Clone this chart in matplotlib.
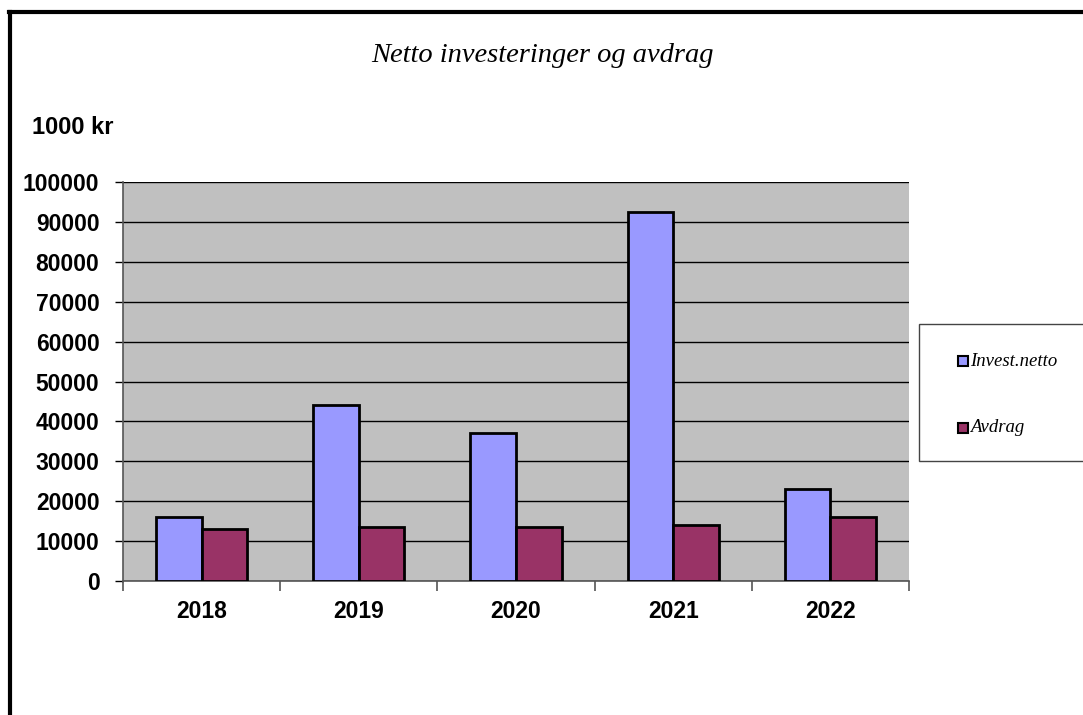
import matplotlib
matplotlib.use("Agg")
import matplotlib.pyplot as plt
import numpy as np
from matplotlib.lines import Line2D
from matplotlib.patches import Rectangle

years = ["2018", "2019", "2020", "2021", "2022"]
invest_netto = [16000, 44000, 37000, 92500, 23000]
avdrag = [13000, 13500, 13600, 14000, 16000]
series_names = ["Invest.netto", "Avdrag"]

W, H = 1083, 715
fig = plt.figure(figsize=(W / 100, H / 100), dpi=100)

# plot area in pixels: x 123..909, y 182..581
ax = fig.add_axes([123 / W, 1 - 581 / H, (909 - 123) / W, (581 - 182) / H])
ax.set_facecolor("#c0c0c0")

x = np.arange(len(years))
bw = 0.29
ax.bar(x - bw / 2, invest_netto, bw, color="#9999ff", edgecolor="black", linewidth=2, zorder=3)
ax.bar(x + bw / 2, avdrag, bw, color="#993366", edgecolor="black", linewidth=2, zorder=3)

ax.set_xlim(-0.5, len(years) - 0.5)
ax.set_ylim(0, 100000)
ax.set_yticks(np.arange(0, 100001, 10000))
ax.yaxis.grid(True, color="black", linewidth=1, zorder=1)
ax.set_axisbelow(True)

ax.set_xticks(np.arange(-0.5, len(years), 1))
ax.set_xticklabels([])
ax.set_xticks(x, minor=True)
ax.set_xticklabels(years, minor=True)
ax.tick_params(axis="x", which="major", length=7, direction="out", color="#555555", width=1.2)
ax.tick_params(axis="x", which="minor", length=0, pad=14)
ax.tick_params(axis="y", length=6, direction="out", width=1, pad=11)
for lab in ax.get_xticklabels(minor=True) + ax.get_yticklabels():
    lab.set_fontfamily("Liberation Sans")
    lab.set_fontweight("bold")
    lab.set_fontsize(16.5)

for side in ["top", "right"]:
    ax.spines[side].set_visible(False)
ax.spines["left"].set_color("#555555")
ax.spines["bottom"].set_color("#555555")
ax.spines["left"].set_linewidth(1.2)
ax.spines["bottom"].set_linewidth(1.2)

fig.text(542 / W, 1 - 56 / H, "Netto investeringer og avdrag", ha="center", va="center",
         fontsize=20.5, fontstyle="italic", family="Liberation Serif")
fig.text(32 / W, 1 - 128 / H, "1000 kr", ha="left", va="center",
         fontsize=17, fontweight="bold", family="Liberation Sans")

# legend box
lx0, ly0, lx1, ly1 = 919, 324, 1090, 461
fig.patches.append(Rectangle((lx0 / W, 1 - ly1 / H), (lx1 - lx0) / W, (ly1 - ly0) / H,
                             transform=fig.transFigure, facecolor="white",
                             edgecolor="#444444", linewidth=1))
for name, col, yy in zip(series_names, ["#9999ff", "#993366"], [361, 428]):
    fig.patches.append(Rectangle((958 / W, 1 - (yy + 5) / H), 10 / W, 10 / H,
                                 transform=fig.transFigure, facecolor=col,
                                 edgecolor="black", linewidth=1.5))
    fig.text(970 / W, 1 - yy / H, name, ha="left", va="center", fontsize=13.5,
             fontstyle="italic", family="Liberation Serif")

# outer frame (left and top only visible)
fig.add_artist(Line2D([10 / W, 10 / W], [0, 1 - 12 / H], color="black", linewidth=3,
                      transform=fig.transFigure))
fig.add_artist(Line2D([8.5 / W, 1], [1 - 12 / H, 1 - 12 / H], color="black", linewidth=3,
                      transform=fig.transFigure))

fig.savefig("out.png", dpi=100)
